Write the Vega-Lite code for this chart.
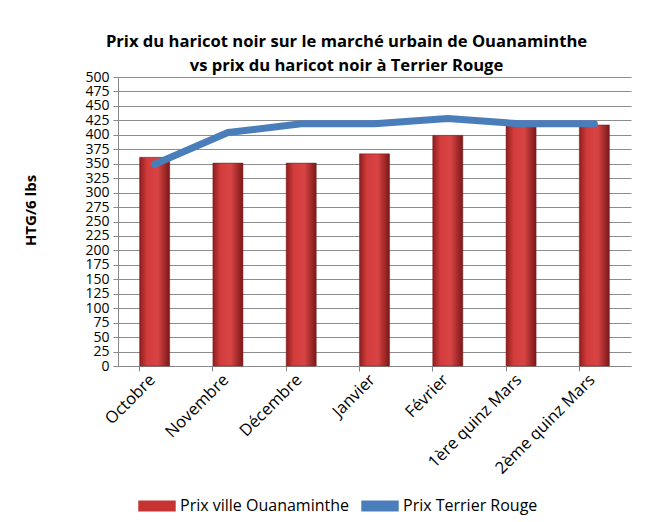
{
  "$schema": "https://vega.github.io/schema/vega-lite/v6.json",
  "width": 513,
  "height": 289,
  "autosize": {"type": "none"},
  "padding": {"left": 118, "top": 77, "right": 23, "bottom": 156},
  "background": "white",
  "config": {
    "font": "Open Sans",
    "view": {"stroke": null},
    "axisY": {
      "labelOverlap": false,
      "titleFontSize": 15,
      "titleFontWeight": "bold",
      "titleColor": "#000000",
      "titleX": -88,
      "titleY": 133,
      "titleBaseline": "middle",
      "labelFontSize": 14,
      "labelColor": "#000000",
      "labelPadding": 4,
      "domainColor": "#888888",
      "tickColor": "#888888",
      "tickSize": 5,
      "gridColor": "#8c8c8c",
      "gridWidth": 1
    }
  },
  "title": {
    "text": ["Prix du haricot noir sur le marché urbain de Ouanaminthe", "vs prix du haricot noir à Terrier Rouge"],
    "font": "Open Sans",
    "fontSize": 16.6,
    "fontWeight": "bold",
    "color": "#000000",
    "anchor": "middle",
    "dx": -28,
    "offset": -5,
    "lineHeight": 24
  },
  "data": {
    "values": [
      {"mois": "Octobre", "ouanaminthe": 361, "terrier": 349},
      {"mois": "Novembre", "ouanaminthe": 351, "terrier": 404},
      {"mois": "Décembre", "ouanaminthe": 351, "terrier": 419},
      {"mois": "Janvier", "ouanaminthe": 367, "terrier": 419},
      {"mois": "Février", "ouanaminthe": 399, "terrier": 428},
      {"mois": "1ère quinz Mars", "ouanaminthe": 416, "terrier": 419},
      {"mois": "2ème quinz Mars", "ouanaminthe": 417, "terrier": 419}
    ]
  },
  "encoding": {
    "x": {
      "field": "mois",
      "type": "nominal",
      "sort": null,
      "scale": {"paddingInner": 0.59, "paddingOuter": 0.295},
      "axis": {
        "title": null,
        "labelAngle": -45,
        "labelFontSize": 16.5,
        "labelColor": "#000000",
        "labelAlign": "right",
        "labelBaseline": "middle",
        "labelPadding": 6,
        "labelOffset": -2,
        "domainColor": "#888888",
        "tickColor": "#888888",
        "tickSize": 5,
        "bandPosition": 0,
        "grid": false
      }
    }
  },
  "layer": [
    {
      "mark": {
        "type": "bar",
        "fill": {
          "gradient": "linear",
          "x1": 0, "x2": 1, "y1": 0, "y2": 0,
          "stops": [
            {"offset": 0, "color": "#8e1e1e"},
            {"offset": 0.25, "color": "#d33c3c"},
            {"offset": 0.6, "color": "#d84444"},
            {"offset": 1, "color": "#7c1818"}
          ]
        },
        "stroke": "#7a1a1a",
        "strokeWidth": 0.5
      },
      "encoding": {
        "y": {
          "field": "ouanaminthe",
          "type": "quantitative",
          "scale": {"domain": [0, 500], "nice": false},
          "axis": {
            "title": "HTG/6 lbs",
            "labelOverlap": false,
            "values": [0,25,50,75,100,125,150,175,200,225,250,275,300,325,350,375,400,425,450,475,500]
          }
        }
      }
    },
    {
      "mark": {"type": "line", "strokeWidth": 7, "strokeCap": "round", "strokeJoin": "round"},
      "encoding": {
        "y": {
          "field": "terrier",
          "type": "quantitative",
          "axis": {
            "title": "HTG/6 lbs",
            "labelOverlap": false,
            "values": [0,25,50,75,100,125,150,175,200,225,250,275,300,325,350,375,400,425,450,475,500]
          }
        },
        "color": {
          "datum": "Prix Terrier Rouge",
          "scale": {
            "domain": ["Prix ville Ouanaminthe", "Prix Terrier Rouge"],
            "range": ["#c73333", "#4a7ebb"]
          },
          "legend": {
            "title": null,
            "orient": "none",
            "legendX": 20,
            "legendY": 410,
            "direction": "horizontal",
            "columns": 2,
            "columnPadding": 12,
            "labelFontSize": 16,
            "labelLimit": 400,
            "labelColor": "#000000",
            "labelOffset": 4,
            "symbolType": "M-1,-0.3H1V0.3H-1Z",
            "symbolSize": 1400,
            "symbolStrokeWidth": 0,
            "encode": {
              "symbols": {
                "update": {
                  "fill": {"scale": "color", "field": "value"},
                  "fillOpacity": {"value": 1}
                }
              }
            }
          }
        }
      }
    }
  ]
}
